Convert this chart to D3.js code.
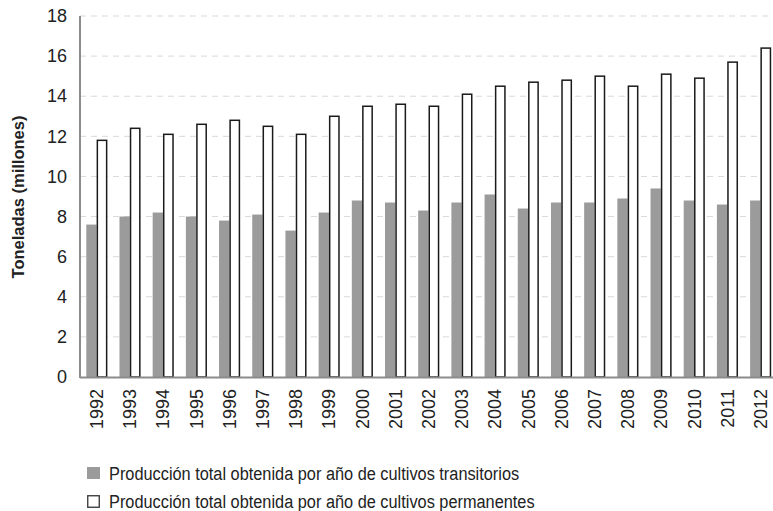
<!DOCTYPE html>
<html><head><meta charset="utf-8">
<script src="https://cdn.jsdelivr.net/npm/d3@7"></script>
<style>body{margin:0;background:#fff}svg{display:block}text{font-family:"Liberation Sans",Arial,sans-serif;fill:#222}</style>
</head><body><svg id="c" width="773" height="511"></svg>
<script>
const years = ["1992","1993","1994","1995","1996","1997","1998","1999","2000","2001","2002","2003","2004","2005","2006","2007","2008","2009","2010","2011","2012"];
const transitorios = [7.6,8.0,8.2,8.0,7.8,8.1,7.3,8.2,8.8,8.7,8.3,8.7,9.1,8.4,8.7,8.7,8.9,9.4,8.8,8.6,8.8];
const permanentes = [11.8,12.4,12.1,12.6,12.8,12.5,12.1,13.0,13.5,13.6,13.5,14.1,14.5,14.7,14.8,15.0,14.5,15.1,14.9,15.7,16.4];
const yTicks = [0,2,4,6,8,10,12,14,16,18];
const seriesNames = ["Producción total obtenida por año de cultivos transitorios","Producción total obtenida por año de cultivos permanentes"];

const svg = d3.select("#c");
const mLeft = 80, mRight = 777, mTop = 16, mBottom = 377;
const x = d3.scaleBand().domain(years).range([mLeft, mRight]).paddingInner(0).paddingOuter(0);
const y = d3.scaleLinear().domain([0,18]).range([mBottom, mTop]);
const bw = 10.3;

// gridlines
svg.append("g").selectAll("line").data(yTicks.filter(d=>d>0)).join("line")
  .attr("x1", mLeft).attr("x2", 768).attr("y1", d=>y(d)).attr("y2", d=>y(d))
  .attr("stroke","#d9d9d9").attr("stroke-width",1).attr("stroke-dasharray","6,5");

// bars
const cx = d => x(d) + x.bandwidth()/2;
svg.append("g").selectAll("rect").data(years).join("rect")
  .attr("x", (d)=>cx(d)-bw).attr("width", bw)
  .attr("y", (d,i)=>y(transitorios[i])).attr("height",(d,i)=>mBottom-y(transitorios[i]))
  .attr("fill","#9b9b9b");
svg.append("g").selectAll("rect").data(years).join("rect")
  .attr("x", (d)=>cx(d)+0.75).attr("width", bw-1)
  .attr("y", (d,i)=>y(permanentes[i])).attr("height",(d,i)=>mBottom-y(permanentes[i]))
  .attr("fill","#fff").attr("stroke","#1a1a1a").attr("stroke-width",1.5);

// axes lines
svg.append("line").attr("x1",mLeft).attr("x2",mLeft).attr("y1",mTop).attr("y2",mBottom+1)
  .attr("stroke","#8c8c8c").attr("stroke-width",2);
svg.append("line").attr("x1",mLeft).attr("x2",773).attr("y1",mBottom+0.5).attr("y2",mBottom+0.5)
  .attr("stroke","#8c8c8c").attr("stroke-width",2);

// y tick labels
const yAxis = d3.axisLeft(y).tickValues(yTicks).tickSize(0).tickPadding(13);
const ga = svg.append("g").attr("transform",`translate(${mLeft},0)`).call(yAxis);
ga.select(".domain").remove();
ga.selectAll("text").style("font-size","18px").attr("fill","#222").style("font-family","'Liberation Sans',Arial,sans-serif");

// x labels
const xAxis = d3.axisBottom(x).tickSize(0).tickPadding(0);
const gx = svg.append("g").attr("transform",`translate(0,${mBottom})`).call(xAxis);
gx.select(".domain").remove();
gx.selectAll("text").style("font-size","18px").attr("fill","#222").style("font-family","'Liberation Sans',Arial,sans-serif")
  .attr("text-anchor","end").attr("dy",null).attr("y",null)
  .attr("transform", d=>`translate(${x.bandwidth()/2+6.5},12) rotate(-90)`);
gx.selectAll(".tick").attr("transform", d=>`translate(${x(d)},0)`);

// y title
svg.append("text").attr("transform","translate(24,197) rotate(-90)").attr("text-anchor","middle")
  .style("font-size","16.5px").style("font-weight","bold").text("Toneladas (millones)");

// legend
const lg = svg.append("g");
seriesNames.forEach((n,i)=>{
  const yy = 473 + i*28;
  lg.append("rect").attr("x", i===0?87:87.75).attr("y", yy-6+(i===0?0:0.75)).attr("width", i===0?13:11.5).attr("height", i===0?12:11.5)
    .attr("fill", i===0?"#9b9b9b":"#fff").attr("stroke", i===0?"none":"#333").attr("stroke-width",1.3);
  lg.append("text").attr("transform",`translate(109,${yy}) scale(0.86,1)`).attr("dy","0.35em")
    .style("font-size","19px").text(n);
});
</script></body></html>
